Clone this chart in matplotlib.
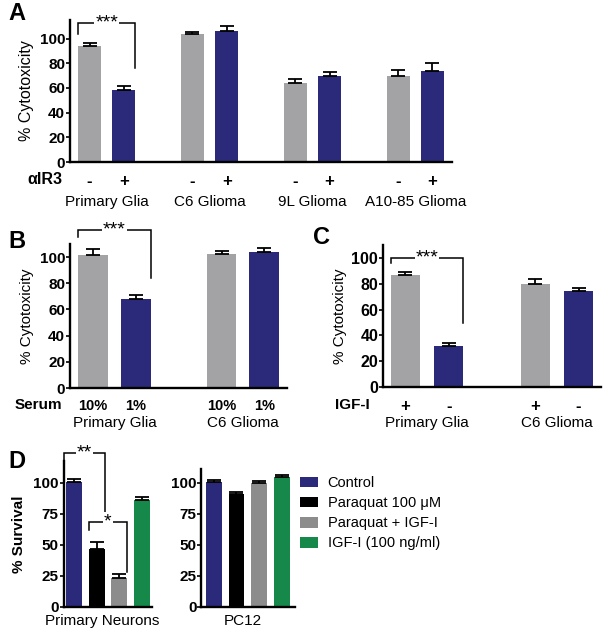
import numpy as np
import matplotlib
matplotlib.use('Agg')
import matplotlib.pyplot as plt
from matplotlib.patches import Patch

plt.rcParams['font.family'] = ['Liberation Sans', 'DejaVu Sans']

# ---- data ----
a_groups = ['Primary Glia', 'C6 Glioma', '9L Glioma', 'A10-85 Glioma']
a_signs = ['-', '+']
a_minus = [94, 103.5, 64, 69.5]
a_minus_err = [2.5, 2, 3.5, 5]
a_plus = [58.5, 106, 70, 73.5]
a_plus_err = [3, 4.5, 2.7, 6.5]

b_groups = ['Primary Glia', 'C6 Glioma']
b_serum = ['10%', '1%']
b_10 = [101.3, 102]
b_10_err = [5.2, 2.4]
b_1 = [68, 103.8]
b_1_err = [2.8, 3.2]

c_groups = ['Primary Glia', 'C6 Glioma']
c_igf = ['+', '-']
c_plus = [87, 80]
c_plus_err = [2, 3.9]
c_minus = [31.7, 74.3]
c_minus_err = [2.1, 2.6]

d_labels = ['Control', 'Paraquat 100 \u03bcM', 'Paraquat + IGF-I', 'IGF-I (100 ng/ml)']
d_neurons = [100.3, 46.3, 22.9, 86]
d_neurons_err = [2.7, 5.9, 3.5, 2.7]
d_pc12 = [100.3, 90.6, 99.7, 104.8]
d_pc12_err = [1.7, 1.6, 1.9, 1.4]

GRAY = '#a3a3a6'
NAVY = '#2b2a7a'
d_colors = [NAVY, '#000000', '#8c8c8c', '#16894a']

W, H = 605, 636
fig = plt.figure(figsize=(W / 100, H / 100), dpi=100)


def rect(l, t, r, b):
    return [l / W, 1 - b / H, (r - l) / W, (b - t) / H]


def px(p):
    return p * 0.72


def style(ax, ylim, yticks, fs=11):
    for s in ['top', 'right']:
        ax.spines[s].set_visible(False)
    for s in ['left', 'bottom']:
        ax.spines[s].set_linewidth(1.7)
    ax.set_ylim(*ylim)
    ax.set_yticks(yticks)
    ax.tick_params(axis='y', direction='out', length=3, width=1.2, pad=0.5, labelsize=fs)
    for t in ax.get_yticklabels():
        t.set_fontweight('bold')


def bars(ax, x, vals, errs, colors, width):
    ax.bar(x, vals, width=width, color=colors, zorder=2)
    ax.errorbar(x, vals, yerr=[np.zeros(len(vals)), errs], fmt='none', ecolor='black',
                elinewidth=1.3, capsize=5 if width > 0.6 else 3.5, capthick=1.3, zorder=3)


def bracket(ax, x0, x1, ytop, yl, yr, stars, fs=14):
    ax.plot([x0, x0, x1, x1], [yl, ytop, ytop, yr], color='black', lw=1.1,
            clip_on=False, zorder=4, solid_joinstyle='miter')
    ax.text((x0 + x1) / 2, ytop, stars, ha='center', va='center', fontsize=fs, zorder=5,
            bbox=dict(facecolor='white', edgecolor='none', pad=0.5), clip_on=False)


def xlabels(ax, ticks, labels, pad, fs=12):
    ax.set_xticks(ticks)
    ax.set_xticklabels(labels, fontweight='bold', fontsize=fs)
    ax.tick_params(axis='x', length=0, pad=pad)


def group_names(ax, centers, names, off_px, fs=11):
    for c, n in zip(centers, names):
        ax.annotate(n, xy=(c, 0), xycoords=ax.get_xaxis_transform(), xytext=(0, -px(off_px)),
                    textcoords='offset points', ha='center', va='center', fontsize=fs)


# ---- Panel A ----
axA = fig.add_axes(rect(70, 20, 452, 162))
wA = 0.67
xg = np.arange(len(a_groups)) * 3
bars(axA, xg, a_minus, a_minus_err, GRAY, wA)
bars(axA, xg + 1, a_plus, a_plus_err, NAVY, wA)
axA.set_xlim(-0.57, 10.57)
style(axA, (0, 115), range(0, 101, 20))
xlabels(axA, np.sort(np.concatenate([xg, xg + 1])), a_signs * len(a_groups), px(11.5))
group_names(axA, xg + 0.5, a_groups, 40)
axA.set_ylabel('% Cytotoxicity', fontsize=11.5, labelpad=4)
bracket(axA, -wA / 2, 1 + wA / 2, 112.5, 104, 76, '***')
fig.text(27 / W, 1 - 180 / H, '\u03b1IR3', fontsize=11.5, fontweight='bold', va='center')
fig.text(8 / W, 1 - 14 / H, 'A', fontsize=17, fontweight='bold', va='center')

# ---- Panel B ----
axB = fig.add_axes(rect(70, 244, 287, 388))
wB = 0.7
xb = np.arange(len(b_groups)) * 3
bars(axB, xb, b_10, b_10_err, GRAY, wB)
bars(axB, xb + 1, b_1, b_1_err, NAVY, wB)
axB.set_xlim(-0.54, 4.53)
style(axB, (0, 110), range(0, 101, 20))
xlabels(axB, [0, 1, 3, 4], b_serum * 2, px(11), fs=10.5)
group_names(axB, xb + 0.5, b_groups, 35)
axB.set_ylabel('% Cytotoxicity', fontsize=11, labelpad=4)
bracket(axB, -wB / 2, 1 + wB / 2, 120.8, 115, 84, '***')
fig.text(15 / W, 1 - 405 / H, 'Serum', fontsize=11, fontweight='bold', va='center')
fig.text(8 / W, 1 - 242 / H, 'B', fontsize=17, fontweight='bold', va='center')

# ---- Panel C ----
axC = fig.add_axes(rect(383, 245, 601, 387))
wC = 0.66
xc = np.arange(len(c_groups)) * 3
bars(axC, xc, c_plus, c_plus_err, GRAY, wC)
bars(axC, xc + 1, c_minus, c_minus_err, NAVY, wC)
axC.set_xlim(-0.52, 4.52)
style(axC, (0, 110), range(0, 101, 20), fs=11.5)
xlabels(axC, [0, 1, 3, 4], c_igf * 2, px(11.5))
group_names(axC, xc + 0.5, c_groups, 36)
axC.set_ylabel('% Cytotoxicity', fontsize=11, labelpad=3)
bracket(axC, -wC / 2, 1 + wC / 2, 100, 96, 49.4, '***')
fig.text(335 / W, 1 - 405 / H, 'IGF-I', fontsize=11, fontweight='bold', va='center')
fig.text(313 / W, 1 - 238 / H, 'C', fontsize=17, fontweight='bold', va='center')

# ---- Panel D ----
wD = 0.7
xd = np.arange(len(d_labels))
axD1 = fig.add_axes(rect(63.5, 461, 151.7, 606.7))
bars(axD1, xd, d_neurons, d_neurons_err, d_colors, wD)
axD1.set_xlim(-0.46, 3.43)
style(axD1, (0, 117.5), range(0, 101, 25))
axD1.set_xticks([])
group_names(axD1, [1.25], ['Primary Neurons'], 14)
axD1.set_ylabel('% Survival', fontsize=11, fontweight='bold', labelpad=5)
bracket(axD1, -0.44, 1 + wD / 2, 123.7, 106, 75, '**')
bracket(axD1, 1 - wD / 2, 2 + wD / 2, 68.5, 62, 28, '*')
fig.text(8 / W, 1 - 462 / H, 'D', fontsize=17, fontweight='bold', va='center')

axD2 = fig.add_axes(rect(201.3, 469, 295, 606.7))
bars(axD2, xd, d_pc12, d_pc12_err, d_colors, wD)
axD2.set_xlim(-0.55, 3.58)
style(axD2, (0, 111), range(0, 101, 25))
axD2.set_xticks([])
group_names(axD2, [1.3], ['PC12'], 14)

handles = [Patch(facecolor=c, edgecolor='none') for c in d_colors]
fig.legend(handles, d_labels, loc='upper left', bbox_to_anchor=(300 / W, 1 - 476 / H),
           frameon=False, fontsize=10.5, handlelength=1.25, handleheight=0.75,
           handletextpad=0.65, labelspacing=0.42, borderpad=0, borderaxespad=0)

fig.savefig('out.png', dpi=100)
